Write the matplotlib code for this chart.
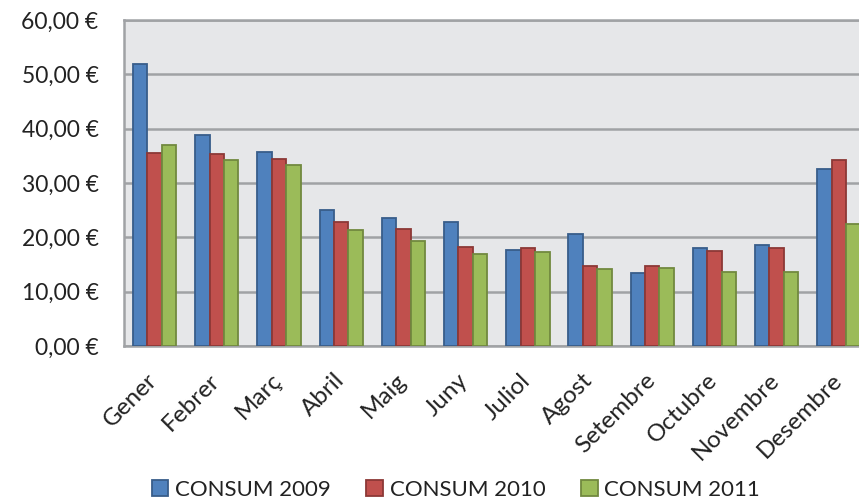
import matplotlib
matplotlib.use("Agg")
import matplotlib.pyplot as plt
from matplotlib.ticker import FuncFormatter
from matplotlib.transforms import ScaledTranslation
import numpy as np

months = ["Gener", "Febrer", "Març", "Abril", "Maig", "Juny", "Juliol",
          "Agost", "Setembre", "Octubre", "Novembre", "Desembre"]
consum_2009 = [52.0, 38.8, 35.7, 25.1, 23.5, 22.9, 17.7, 20.6, 13.5, 18.1, 18.6, 32.6]
consum_2010 = [35.6, 35.3, 34.5, 22.9, 21.6, 18.2, 18.1, 14.8, 14.8, 17.5, 18.1, 34.2]
consum_2011 = [37.0, 34.2, 33.4, 21.4, 19.3, 16.9, 17.3, 14.2, 14.4, 13.6, 13.6, 22.4]
series_names = ["CONSUM 2009", "CONSUM 2010", "CONSUM 2011"]

plt.rcParams['font.family'] = ['Lato', 'DejaVu Sans']

fill = ["#4F81BD", "#C0504D", "#9BBB59"]
edge = ["#385D8A", "#8C3836", "#71893F"]

fig = plt.figure(figsize=(8.59, 5.04), dpi=100)
ax = fig.add_axes([0.1438, 0.3135, 0.869, 0.6465])
ax.set_facecolor("#E6E7E9")

x = np.arange(len(months))
w = 0.232
all_vals = [consum_2009, consum_2010, consum_2011]
handles = []
for i, vals in enumerate(all_vals):
    b = ax.bar(x + (i - 1) * w, vals, width=w, color=fill[i], edgecolor=edge[i],
               linewidth=1.3, label=series_names[i], zorder=3)
    handles.append(b)

ax.set_xlim(-0.5, len(months) - 0.5)
ax.set_ylim(0, 60)
ax.set_yticks(np.arange(0, 61, 10))
ax.yaxis.set_major_formatter(FuncFormatter(lambda v, p: "{:.2f} €".format(v).replace(".", ",")))
ax.grid(axis="y", color="#A0A2A5", linewidth=1.8, zorder=1)
ax.grid(axis="x", visible=False)

ax.spines["right"].set_visible(False)
for s in ["left", "bottom", "top"]:
    ax.spines[s].set_color("#A0A2A5")
    ax.spines[s].set_linewidth(1.8)

ax.tick_params(axis="y", length=0, pad=18, labelsize=16.5, labelcolor="#222222")
ax.tick_params(axis="x", length=0, pad=17)
ax.set_xticks(x)
ax.set_xticklabels(months, rotation=45, ha="right", rotation_mode="anchor",
                   fontsize=17.5, color="#222222")
# shift the rotated labels a bit to the left, like the original
shift = ScaledTranslation(-0.08, 0, fig.dpi_scale_trans)
for lab in ax.get_xticklabels():
    lab.set_transform(lab.get_transform() + shift)

fig.legend(handles=handles, loc="center", bbox_to_anchor=(456 / 859, 1 - 490 / 504),
           ncol=3, frameon=False, fontsize=16, handlelength=0.75, handleheight=0.75,
           handletextpad=0.3, columnspacing=1.6, labelcolor="#222222")

fig.savefig("out.png", dpi=100)
